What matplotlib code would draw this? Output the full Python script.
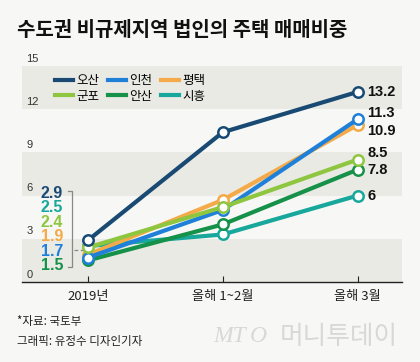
import matplotlib.pyplot as plt
from matplotlib.lines import Line2D

plt.rcParams['font.family'] = ['Noto Sans CJK KR', 'DejaVu Sans']

# 데이터 (%)
periods = ['2019년', '올해 1~2월', '올해 3월']
regions = ['오산', '인천', '평택', '군포', '안산', '시흥']
values = {
    '오산': [2.9, 10.4, 13.2],
    '인천': [1.7, 5.0, 11.3],
    '평택': [1.9, 5.7, 10.9],
    '군포': [2.4, 5.2, 8.5],
    '안산': [1.5, 4.0, 7.8],
    '시흥': [2.5, 3.3, 6.0],
}
colors = {
    '오산': '#184a74',
    '인천': '#1e80d8',
    '평택': '#f4aa48',
    '군포': '#8ec640',
    '안산': '#16914a',
    '시흥': '#17a89b',
}
yticks = [0, 3, 6, 9, 12, 15]

W, H = 420, 362
bg = '#f7f7f5'
band = '#eaeae4'

fig = plt.figure(figsize=(W / 100, H / 100), dpi=100, facecolor=bg)
ax = fig.add_axes([22 / W, 1 - 282 / H, 380 / W, 216 / H])
ax.set_facecolor(bg)
ax.set_xlim(-0.49, 2.33)
ax.set_ylim(0, 15)

def px(x, y):
    return x / W, 1 - y / H

# 배경 띠
for lo in [0, 6, 12]:
    ax.axhspan(lo, lo + 3, color=band, lw=0, zorder=0)

for s in ['top', 'right', 'left']:
    ax.spines[s].set_visible(False)
ax.spines['bottom'].set_color('#222222')
ax.spines['bottom'].set_linewidth(1)
ax.set_yticks([])
ax.set_xticks(range(len(periods)))
ax.set_xticklabels(periods, fontsize=9.5, color='#222222')
ax.tick_params(axis='x', direction='in', length=4, color='#222222', pad=6)

for t in yticks:
    ax.text(0.012, t + 0.3, str(t), transform=ax.get_yaxis_transform(),
            fontsize=8, color='#333333', va='baseline', ha='left',
            family='Liberation Sans')

# 선 (그리는 순서)
draw_order = ['시흥', '안산', '평택', '인천', '군포', '오산']
for r in draw_order:
    ax.plot(range(len(periods)), values[r], color=colors[r], lw=3,
            marker='o', ms=7.5, mfc='white', mec=colors[r], mew=1.8,
            zorder=3, solid_capstyle='round')

# 범례
handles = [Line2D([], [], color=colors[r], lw=3) for r in regions]
order = [0, 3, 1, 4, 2, 5]
leg = ax.legend([handles[i] for i in order], [regions[i] for i in order],
                ncol=3, frameon=False, fontsize=9, handlelength=1.4,
                handletextpad=0.3, columnspacing=0.7, labelspacing=0.2,
                loc='upper left', bbox_to_anchor=px(44, 63),
                bbox_transform=fig.transFigure)

# 오른쪽 값 라벨 (픽셀 오프셋)
right_shift = {'오산': 0, '인천': 6, '평택': -6, '군포': 6.5, '안산': 0, '시흥': 0}
for r in regions:
    v = values[r][-1]
    lab = f'{v:g}'
    ax.annotate(lab, xy=(2, v), xytext=(7, right_shift[r] / 1.389),
                textcoords='offset points', fontsize=10.5, fontweight='bold',
                color='#111111', va='center', ha='left',
                family='Liberation Sans')

# 왼쪽 값 라벨
first_sorted = sorted(regions, key=lambda r: -values[r][0])
for i, r in enumerate(first_sorted):
    fig.text(*px(63, 193 + i * 14.6), f'{values[r][0]:g}', fontsize=11.5,
             fontweight='bold', color=colors[r], ha='right', va='center',
             family='Liberation Sans')

gray = '#888888'
fig.add_artist(Line2D([x / W for x in [68, 72, 72, 68]],
                      [1 - y / H for y in [191, 191, 267, 267]],
                      color=gray, lw=0.9, transform=fig.transFigure))
fig.add_artist(Line2D([74 / W, 83 / W], [1 - 250 / H] * 2, color=gray,
                      lw=0.9, ls=(0, (3, 2)), transform=fig.transFigure))

# 제목, 출처
fig.text(*px(17, 30), '수도권 비규제지역 법인의 주택 매매비중', fontsize=14.4,
         fontweight='bold', color='#111111', va='center', ha='left')
fig.text(*px(17, 322), '*자료: 국토부', fontsize=8.3, color='#222222',
         va='center')
fig.text(*px(17, 341), '그래픽: 유정수 디자인기자', fontsize=8.3,
         color='#222222', va='center')
fig.text(*px(213, 337), 'MT', fontsize=17, style='italic', color='#d8d8d8',
         va='center', family='Liberation Serif')
fig.text(*px(250, 337), 'O', fontsize=17, style='italic', color='#d8d8d8',
         va='center', family='Liberation Serif')
fig.text(*px(280, 337), '머니투데이', fontsize=18.5, color='#d8d8d8',
         va='center', fontweight='light')

fig.savefig('out.png', dpi=100, facecolor=bg)
